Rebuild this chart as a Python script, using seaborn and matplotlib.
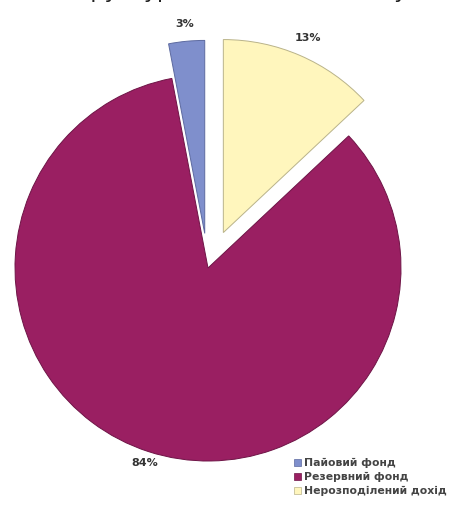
"""Pie chart of capital structure, seaborn-styled."""

import matplotlib

matplotlib.use("Agg")
import matplotlib.pyplot as plt
import numpy as np
import seaborn as sns

sns.set_theme(style="white", context="notebook")
plt.rcParams["font.family"] = ["DejaVu Sans"]

TITLE = "Структура власного капіталу"
CATEGORIES = ["Пайовий фонд", "Резервний фонд", "Нерозподілений дохід"]
SHARES = [3, 84, 13]
EXPLODE = [0.18, 0.0, 0.2]
LABEL_DIST = [1.09, 1.065, 1.1]
COLORS = ["#7f8fcc", "#9a1f62", "#fff6bd"]
EDGE_COLORS = ["#5d6aa0", "#6e1446", "#b9b38a"]

fig = plt.figure(figsize=(4.70, 5.07), dpi=100)
ax = fig.add_axes([0, 0, 1, 1])

wedges, texts, autotexts = ax.pie(
    SHARES,
    explode=EXPLODE,
    colors=COLORS,
    startangle=90,
    counterclock=True,
    autopct="%d%%",
    pctdistance=1.1,
    wedgeprops=dict(linewidth=0.7),
    textprops=dict(fontsize=8, fontweight="bold", color="#333333"),
)
for w, ec, t, dist, ex in zip(wedges, EDGE_COLORS, autotexts, LABEL_DIST, EXPLODE):
    w.set_edgecolor(ec)
    mid = np.deg2rad((w.theta1 + w.theta2) / 2)
    r = ex + dist
    t.set_position((r * np.cos(mid), r * np.sin(mid)))

# radius 1 = 193 px, centre at (208, 268) from the top-left corner
ax.set_aspect("auto")
ax.set_xlim(-208 / 193, (470 - 208) / 193)
ax.set_ylim(-(507 - 268) / 193, 268 / 193)
ax.axis("off")

# title sits mostly above the top edge, as in the source picture
fig.text(0.5, 1.0 + 2 / 507, TITLE, ha="center", va="baseline",
         fontsize=16, color="#222222")

handles = [plt.Rectangle((0, 0), 1, 1, facecolor=c, edgecolor=ec, lw=0.5)
           for c, ec in zip(COLORS, EDGE_COLORS)]
fig.legend(
    handles,
    CATEGORIES,
    loc="upper left",
    bbox_to_anchor=(289 / 470, 1 - 453 / 507),
    frameon=False,
    prop=dict(size=7.8, weight="bold"),
    handlelength=0.65,
    handleheight=0.65,
    handletextpad=0.25,
    labelspacing=0.35,
    borderpad=0.0,
    labelcolor="#444444",
)

fig.savefig("out.png", dpi=100)
